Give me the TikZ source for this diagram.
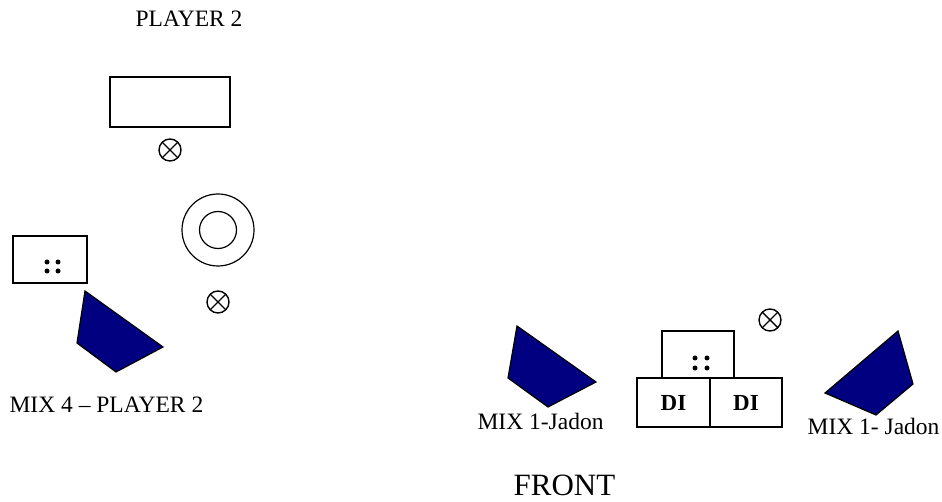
\documentclass[tikz,border=0pt]{standalone}
\usepackage{fontspec}
\setmainfont{Liberation Serif}
\usetikzlibrary{positioning}
\definecolor{navyblue}{RGB}{0,0,128}
\begin{document}
\begin{tikzpicture}[x=1pt,y=-1pt,line width=1.2pt,
  box/.style={draw,rectangle,inner sep=0pt,outer sep=0pt},
  mic/.style={draw,circle,minimum size=22pt,inner sep=0pt,outer sep=0pt,line width=1.4pt},
  wedge/.style={draw=black,fill=navyblue},
  lbl/.style={anchor=base west,inner sep=0pt,font=\fontsize{23.5}{28}\selectfont}]
\useasboundingbox (0,0) rectangle (942,502);

% player 2 corner
\node[lbl] (player) at (135,27) {PLAYER 2};
\node[box,minimum width=120pt,minimum height=50pt] (screen) at (170,102) {};
\node[mic] (mic1) at (170,150) {};
\draw[line width=1.4pt] (mic1.north east) -- (mic1.south west) (mic1.north west) -- (mic1.south east);
\node[draw,circle,minimum size=72pt,inner sep=0pt] (kit) at (218,230) {};
\node[draw,circle,minimum size=37pt,inner sep=0pt] (kitin) at (kit) {};
\node[mic] (mic2) at (218,302) {};
\draw[line width=1.4pt] (mic2.north east) -- (mic2.south west) (mic2.north west) -- (mic2.south east);
\node[box,minimum width=74pt,minimum height=47pt] (amp) at (50,259.5) {};
\foreach \dx in {0,11}
\foreach \dy in {0,9}
{
\fill (47+\dx,262+\dy) circle (2.5pt);
}
\filldraw[wedge] (85,291) -- (163,347) -- (116,372) -- (77,343) -- cycle;
\node[lbl] (mix4) at (9,412) {MIX 4 -- PLAYER 2};

% front line
\filldraw[wedge] (517,326) -- (596,382) -- (548,407) -- (508,378) -- cycle;
\node[lbl] (mixl) at (477,429) {MIX 1-Jadon};
\node[box,minimum width=72pt,minimum height=47pt] (bass) at (698,354.5) {};
\foreach \dx in {0,12}
\foreach \dy in {0,10}
{
\fill (695+\dx,358+\dy) circle (2.5pt);
}
\node[box,minimum width=73pt,minimum height=49pt,font=\fontsize{23}{26}\selectfont\bfseries] (di1) at (673.5,402.5) {DI};
\node[box,minimum width=72pt,minimum height=49pt,font=\fontsize{23}{26}\selectfont\bfseries,right=0pt of di1] (di2) {DI};
\node[mic] (mic3) at (770,320) {};
\draw[line width=1.4pt] (mic3.north east) -- (mic3.south west) (mic3.north west) -- (mic3.south east);
\filldraw[wedge] (898,331) -- (913,384) -- (876,415) -- (825,393) -- cycle;
\node[lbl] (mixr) at (807,434) {MIX 1- Jadon};

\node[lbl,font=\fontsize{31}{36}\selectfont] (front) at (513,495) {FRONT};

\end{tikzpicture}
\end{document}
